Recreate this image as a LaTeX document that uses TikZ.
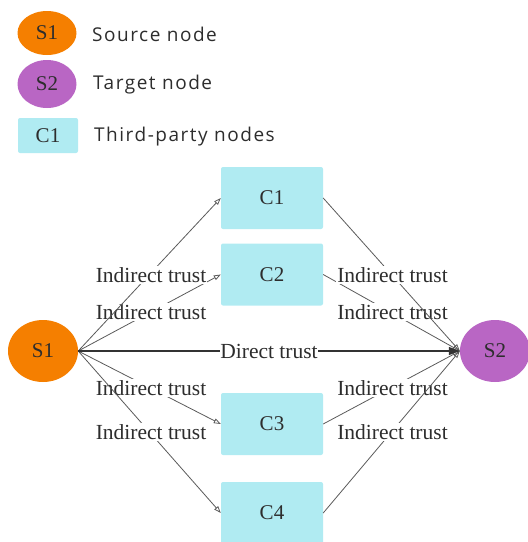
\documentclass[tikz,border=0pt]{standalone}
\usepackage{fontspec}
\setmainfont{Liberation Serif}
\newfontfamily\legendfont[LetterSpace=8]{Open Sans}
\usetikzlibrary{shapes.geometric,arrows.meta}
\definecolor{srcorange}{RGB}{245,127,0}
\definecolor{tgtpurple}{RGB}{185,102,196}
\definecolor{thirdcyan}{RGB}{176,235,242}
\definecolor{edgegray}{RGB}{90,90,90}
\definecolor{txtgray}{RGB}{45,45,45}
\tikzset{
  srcnode/.style={ellipse,fill=srcorange,draw=none,inner sep=0pt,text=txtgray,font=\fontsize{21}{25}\selectfont},
  tgtnode/.style={ellipse,fill=tgtpurple,draw=none,inner sep=0pt,text=txtgray,font=\fontsize{21}{25}\selectfont},
  thirdbox/.style={rectangle,rounded corners=2pt,fill=thirdcyan,draw=none,inner sep=0pt,text=txtgray,font=\fontsize{21}{25}\selectfont},
  legtext/.style={anchor=west,inner sep=0pt,text=txtgray,font=\legendfont\fontsize{19}{22}\selectfont},
  indirect/.style={draw=edgegray,line width=0.8pt,-{Triangle[open,length=7pt,width=5pt]}},
  direct/.style={draw=black!80,line width=1.5pt,-{Triangle[length=11pt,width=8pt]}},
  trustlabel/.style={fill=white,inner sep=1pt,text=txtgray,font=\fontsize{21.5}{25}\selectfont},
}
\begin{document}
\begin{tikzpicture}[x=1pt,y=-1pt]
\useasboundingbox (0,0) rectangle (528,542);
% legend
\node[srcnode,minimum width=59pt,minimum height=44pt] (lS1) at (47,33) {S1};
\node[tgtnode,minimum width=59pt,minimum height=48pt] (lS2) at (47,84) {S2};
\node[thirdbox,minimum width=60pt,minimum height=35pt] (lC1) at (48,135.5) {C1};
\node[legtext] (lt1) at (92,34) {Source node};
\node[legtext] (lt2) at (93,85) {Target node};
\node[legtext] (lt3) at (94,137) {Third-party nodes};
% main nodes
\node[srcnode,minimum width=70pt,minimum height=62pt] (S1) at (43,351) {S1};
\node[tgtnode,minimum width=70pt,minimum height=62pt] (S2) at (495,351) {S2};
\node[thirdbox,minimum width=102pt,minimum height=62pt] (C1) at (272,198) {C1};
\node[thirdbox,minimum width=102pt,minimum height=62pt] (C2) at (272,274.5) {C2};
\node[thirdbox,minimum width=102pt,minimum height=62pt] (C3) at (272,424) {C3};
\node[thirdbox,minimum width=102pt,minimum height=62pt] (C4) at (272,513) {C4};
% edges from S1
\draw[indirect] (S1.east) -- (C2.west);
\node[trustlabel] (L2) at (151,312) {Indirect trust};
\draw[indirect] (S1.east) -- (C1.west);
\node[trustlabel] (L1) at (151,275) {Indirect trust};
\draw[indirect] (S1.east) -- (C3.west);
\node[trustlabel] (L3) at (151,388) {Indirect trust};
\draw[indirect] (S1.east) -- (C4.west);
\node[trustlabel] (L4) at (151,432) {Indirect trust};
% edges to S2
\draw[indirect] (C2.east) -- (S2.west);
\node[trustlabel] (R2) at (392.5,312) {Indirect trust};
\draw[indirect] (C1.east) -- (S2.west);
\node[trustlabel] (R1) at (392.5,275) {Indirect trust};
\draw[indirect] (C3.east) -- (S2.west);
\node[trustlabel] (R3) at (392.5,388) {Indirect trust};
\draw[indirect] (C4.east) -- (S2.west);
\node[trustlabel] (R4) at (392.5,432) {Indirect trust};
% direct
\draw[direct] (S1.east) -- node[trustlabel,inner sep=0.5pt] (D) {Direct trust} (S2.west);
\end{tikzpicture}
\end{document}
